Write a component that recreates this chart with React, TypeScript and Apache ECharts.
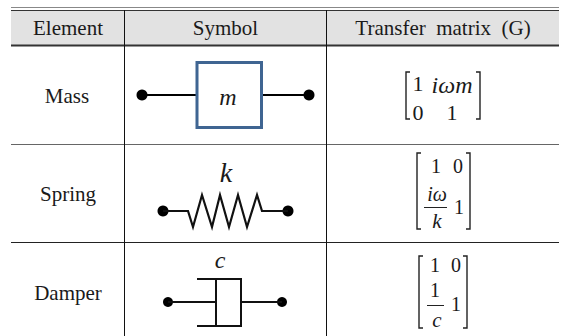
import React, { useEffect, useRef } from "react";
import * as echarts from "echarts";

const headers = ["Element", "Symbol", "Transfer  matrix  (G)"];
const elements = ["Mass", "Spring", "Damper"];
const symbols = ["m", "k", "c"];

const SERIF = '"Liberation Serif", "Times New Roman", serif';
const INK = "#1a1a1a";

const txt = (x: number, y: number, text: string, size = 21, extra: any = {}) => ({
  type: "text",
  silent: true,
  style: { x, y, text, fontFamily: SERIF, fontSize: size, fill: INK, align: "center", verticalAlign: "middle", ...extra },
});
const ln = (x1: number, y1: number, x2: number, y2: number, stroke = "#111", lineWidth = 1) => ({
  type: "line",
  silent: true,
  shape: { x1, y1, x2, y2 },
  style: { stroke, lineWidth },
});
const poly = (points: number[][], lineWidth = 2, stroke = "#111") => ({
  type: "polyline",
  silent: true,
  shape: { points },
  style: { stroke, lineWidth, fill: "none" },
});
const dot = (cx: number, cy: number, r = 5) => ({
  type: "circle",
  silent: true,
  shape: { cx, cy, r },
  style: { fill: "#000" },
});
const bracket = (x: number, y1: number, y2: number, dir: number) =>
  poly([[x + dir * 4, y1], [x, y1], [x, y2], [x + dir * 4, y2]], 1.4, "#222");

export default function App() {
  const ref = useRef<HTMLDivElement>(null);
  useEffect(() => {
    const chart = echarts.init(ref.current!, null, { renderer: "svg" });
    const elems: any[] = [
      { type: "rect", silent: true, shape: { x: 11, y: 10, width: 548, height: 35 }, style: { fill: "#e2e2e2" } },
      ln(11, 7.5, 559, 7.5, "#888", 1),
      ln(11, 10.5, 559, 10.5, "#333", 1),
      ln(11, 45.5, 559, 45.5, "#333", 2),
      ln(11, 144.5, 559, 144.5, "#666", 1),
      ln(11, 242.5, 559, 242.5, "#222", 1),
      ln(124.5, 10, 124.5, 336, "#111", 1),
      ln(326.5, 10, 326.5, 336, "#111", 1),
      txt(68, 28, headers[0]),
      txt(225.5, 28, headers[1]),
      txt(443, 28, headers[2]),
      txt(67, 96, elements[0]),
      txt(68, 194, elements[1]),
      txt(68, 293, elements[2]),

      // mass
      dot(142, 95, 5.5),
      ln(142, 95, 196, 95, "#000", 2),
      ln(262, 95, 309, 95, "#000", 2),
      dot(309, 95, 5.5),
      { type: "rect", silent: true, shape: { x: 197, y: 62.5, width: 64.5, height: 65 }, style: { fill: "#fff", stroke: "#3f6592", lineWidth: 3 } },
      txt(228, 97, symbols[0], 24, { fontStyle: "italic" }),

      // spring
      txt(226, 172, symbols[1], 28, { fontStyle: "italic" }),
      dot(163, 211, 5.5),
      dot(288, 211, 5.5),
      poly([[163, 211], [188, 211], [193, 227], [202, 195], [212, 227], [220, 195], [229, 227], [238, 195], [247, 227], [257, 195], [262, 211], [288, 211]], 2.2),

      // damper
      txt(220, 260, symbols[2], 24, { fontStyle: "italic" }),
      dot(168, 302, 5),
      dot(282, 302, 5),
      ln(168, 302, 216, 302, "#111", 2),
      ln(241, 302, 282, 302, "#111", 2),
      poly([[197, 279], [241, 279], [241, 326], [197, 326]]),
      ln(216, 279, 216, 326, "#111", 2),

      // matrix mass
      bracket(406, 72, 119, 1),
      bracket(480, 72, 119, -1),
      txt(418, 83, "1", 22),
      txt(418, 112, "0", 22),
      txt(452, 85, "iωm", 24, { fontStyle: "italic" }),
      txt(452, 112, "1", 22),

      // matrix spring
      bracket(417, 153, 229, 1),
      bracket(470, 153, 229, -1),
      txt(436, 166, "1", 20),
      txt(458, 166, "0", 20),
      txt(437, 194, "iω", 20, { fontStyle: "italic" }),
      ln(424, 207.5, 447, 207.5, "#222", 1),
      txt(437, 221, "k", 21, { fontStyle: "italic" }),
      txt(459, 207, "1", 20),

      // matrix damper
      bracket(419, 256, 328, 1),
      bracket(467, 256, 328, -1),
      txt(435, 265, "1", 20),
      txt(456, 265, "0", 20),
      txt(435, 290, "1", 20),
      ln(427, 305.5, 444, 305.5, "#222", 1),
      txt(437, 320, "c", 21, { fontStyle: "italic" }),
      txt(456, 304, "1", 20),
    ];
    chart.setOption({ animation: false, graphic: { elements: elems } });
    return () => chart.dispose();
  }, []);
  return <div ref={ref} style={{ position: "fixed", left: 0, top: 0, width: 564, height: 336, background: "#fff" }} />;
}
